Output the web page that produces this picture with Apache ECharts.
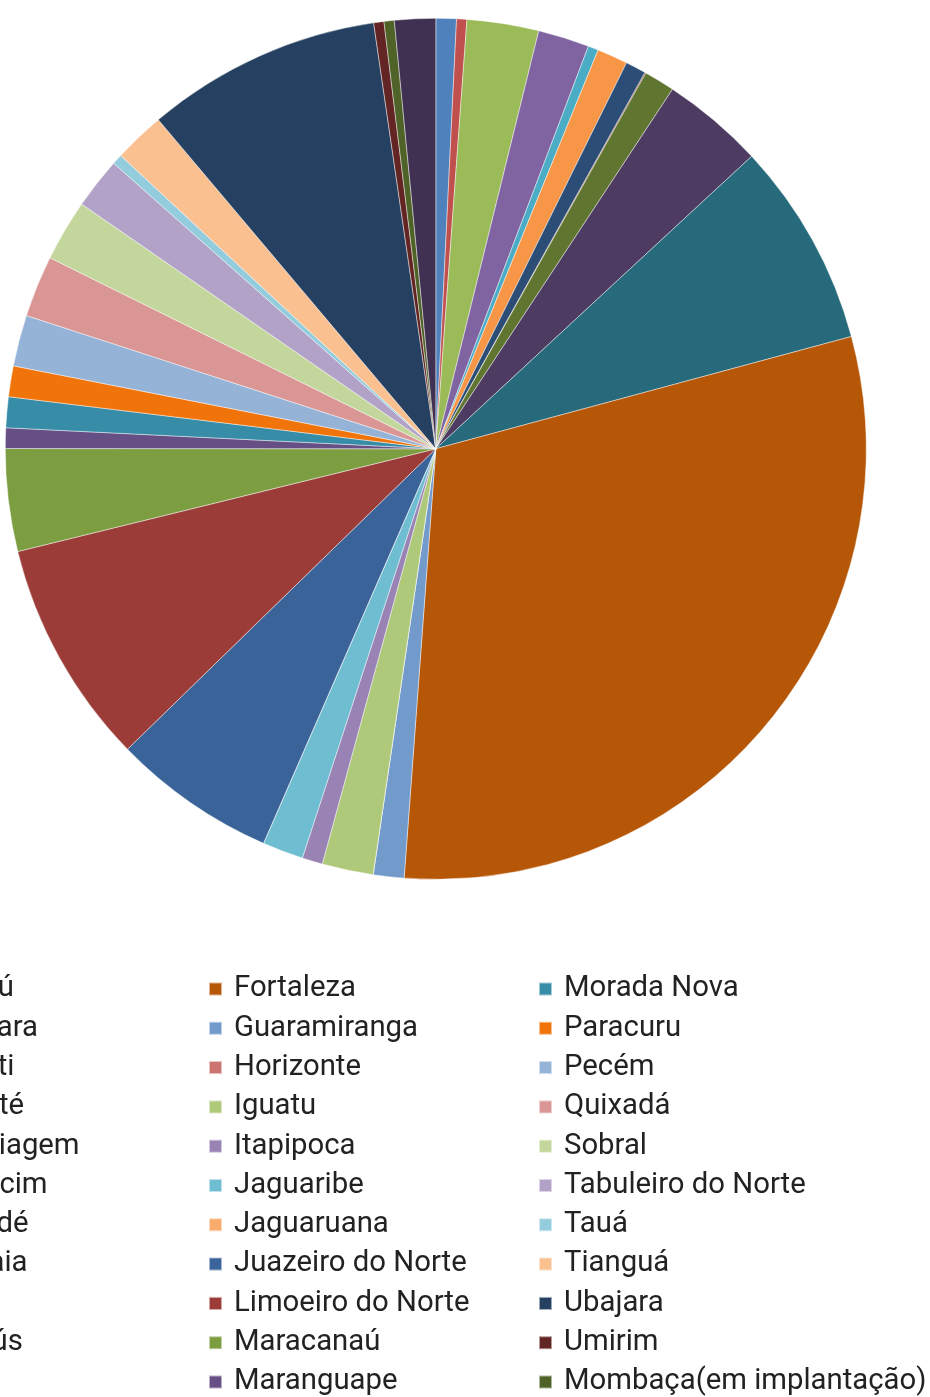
<!DOCTYPE html>
<html>
<head>
<meta charset="utf-8">
<script src="https://cdn.jsdelivr.net/npm/echarts@6/dist/echarts.min.js"></script>
<style>
  html, body { margin: 0; padding: 0; background: #ffffff; }
  #chart { width: 930px; height: 1397px; }
</style>
</head>
<body>
<div id="chart"></div>
<script>
// IFCE campuses, in the order the pie is drawn (clockwise from 12 o'clock)
const campuses = [
  'Acaraú', 'Acopiara', 'Aracati', 'Baturité', 'Boa Viagem', 'Camocim',
  'Canindé', 'Caucaia', 'Cedro', 'Crateús', 'Crato',
  'Fortaleza', 'Guaramiranga', 'Horizonte', 'Iguatu', 'Itapipoca', 'Jaguaribe',
  'Jaguaruana', 'Juazeiro do Norte', 'Limoeiro do Norte', 'Maracanaú', 'Maranguape',
  'Morada Nova', 'Paracuru', 'Pecém', 'Quixadá', 'Sobral', 'Tabuleiro do Norte',
  'Tauá', 'Tianguá', 'Ubajara', 'Umirim', 'Mombaça(em implantação)',
  'Reitoria'
];

const values = [
  2, 1, 7, 5, 1, 3,
  2, 0.1, 3, 10, 20,
  79, 3, 0, 5, 2, 4,
  0, 16, 22, 10, 2,
  3, 3, 5, 6, 6, 5,
  1, 5, 23, 1, 1,
  4
];

const colors = [
  '#4F81BD', '#C0504D', '#9BBB59', '#8064A2', '#4BACC6', '#F79646',
  '#2C4D75', '#772C2A', '#5F7530', '#4D3B62', '#276A7C',
  '#B65708', '#729ACA', '#CD7371', '#AFC97A', '#9983B5', '#6FBDD1',
  '#F9AB6B', '#3A6399', '#9C3C39', '#7C9D40', '#664F84',
  '#378DA7', '#F0740A', '#95B3D7', '#D99694', '#C3D69B', '#B3A2C7',
  '#93CDDD', '#FAC090', '#254061', '#632523', '#4F6228',
  '#403152'
];

// Legend columns (the last entry has no legend row)
const legendColumns = [
  campuses.slice(0, 11),
  campuses.slice(11, 22),
  campuses.slice(22, 33)
];
const legendLefts = [-104, 208, 538];

const chart = echarts.init(document.getElementById('chart'), null, { renderer: 'canvas' });

const legendBase = {
  orient: 'vertical',
  top: 974.5,
  padding: 0,
  itemWidth: 13,
  itemHeight: 13,
  itemGap: 10.3,
  icon: 'rect',
  selectedMode: false,
  textStyle: {
    fontFamily: 'Roboto',
    fontSize: 29.3,
    lineHeight: 29,
    color: '#222222',
    padding: [0, 0, 0, 7]
  }
};

chart.setOption({
  animation: false,
  backgroundColor: '#ffffff',
  legend: legendColumns.map((col, i) => Object.assign({}, legendBase, {
    left: legendLefts[i],
    data: col
  })),
  series: [{
    type: 'pie',
    center: [435.8, 448.8],
    radius: 430.5,
    startAngle: 90,
    clockwise: true,
    avoidLabelOverlap: false,
    label: { show: false },
    labelLine: { show: false },
    emphasis: { disabled: true },
    itemStyle: {
      borderColor: 'rgba(255,255,255,0.55)',
      borderWidth: 0.8
    },
    data: campuses.map((name, i) => ({
      name: name,
      value: values[i],
      itemStyle: { color: colors[i] }
    }))
  }]
});
</script>
</body>
</html>
